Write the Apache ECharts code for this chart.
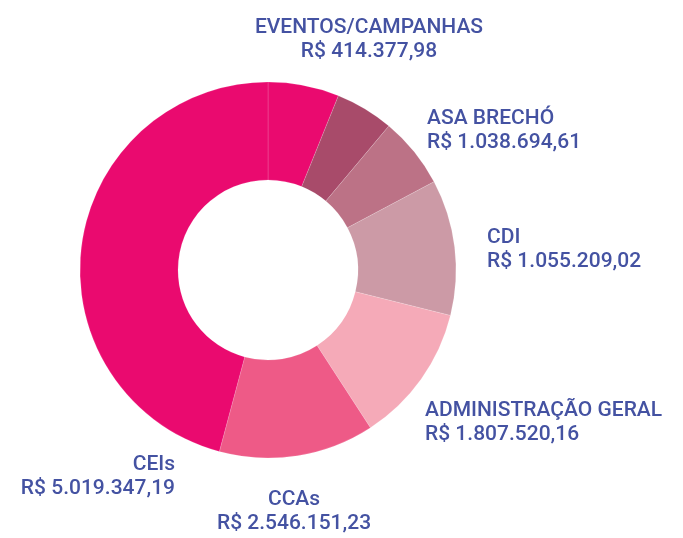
<!DOCTYPE html>
<html>
<head>
<meta charset="utf-8">
<script src="https://cdn.jsdelivr.net/npm/echarts@6/dist/echarts.min.js"></script>
<style>
  html, body { margin: 0; padding: 0; background: #fff; }
</style>
</head>
<body>
<div id="main" style="width:683px;height:538px;"></div>
<script>
// slices as drawn, clockwise from 12 o'clock (degrees)
var names = ['EVENTOS/CAMPANHAS', 'ASA BRECHÓ', '', 'CDI', 'ADMINISTRAÇÃO GERAL', 'CCAs', 'CEIs'];
var amounts = [414377.98, 1038694.61, null, 1055209.02, 1807520.16, 2546151.23, 5019347.19];
var sliceDegrees = [22, 18, 22, 42, 43, 48, 165];
var colors = ['#EA0A6F', '#A84B6A', '#BC7286', '#CC9AA6', '#F5AAB8', '#EE5A87', '#EA0A6F'];

// label anchor [x, y, align] per slice
var labelPos = [
  [369, 16, 'center'],
  [427, 107, 'left'],
  null,
  [487, 226, 'left'],
  [425, 399, 'left'],
  [294, 488, 'center'],
  [175, 453, 'right']
];

function brl(v) {
  if (v == null) return '';
  var parts = v.toFixed(2).split('.');
  var int = parts[0].replace(/\B(?=(\d{3})+(?!\d))/g, '.');
  return 'R$ ' + int + ',' + parts[1];
}

var chart = echarts.init(document.getElementById('main'));

var data = names.map(function (n, i) {
  return {
    name: n,
    value: sliceDegrees[i],
    itemStyle: { color: colors[i] },
    label: { show: amounts[i] != null }
  };
});

var option = {
  animation: false,
  series: [{
    type: 'pie',
    center: [268, 270],
    radius: [90, 188],
    startAngle: 90,
    clockwise: true,
    avoidLabelOverlap: false,
    itemStyle: { borderColor: 'rgba(255,255,255,0.25)', borderWidth: 0.6 },
    label: {
      position: 'outside',
      color: '#4452A2',
      fontFamily: 'Roboto',
      fontWeight: 500,
      fontSize: 21,
      lineHeight: 24,
      formatter: function (p) {
        if (amounts[p.dataIndex] == null) return '';
        return p.name + '\n' + brl(amounts[p.dataIndex]);
      }
    },
    labelLine: { show: false },
    labelLayout: function (p) {
      var pos = labelPos[p.dataIndex];
      if (!pos) return {};
      return { x: pos[0], y: pos[1], align: pos[2], verticalAlign: 'top' };
    },
    emphasis: { disabled: true },
    data: data
  }]
};

chart.setOption(option);
</script>
</body>
</html>
